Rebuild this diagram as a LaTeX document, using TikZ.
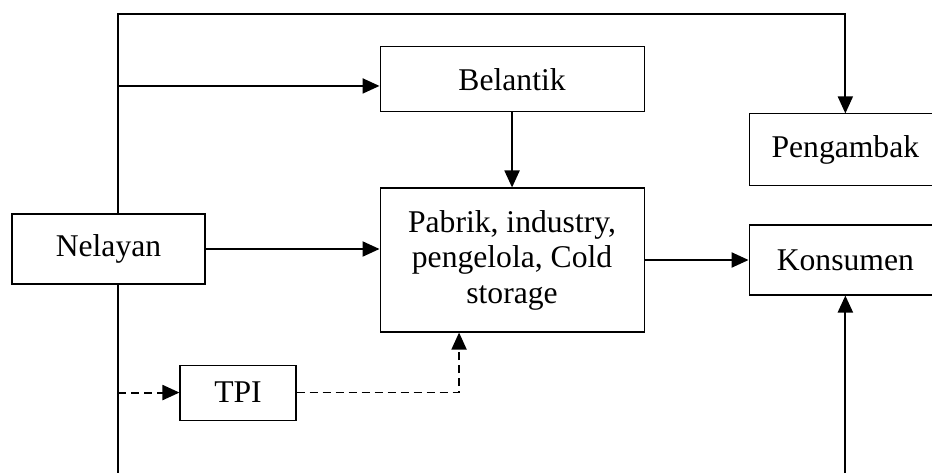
\documentclass[tikz,border=0pt]{standalone}
\usepackage{fontspec}
\setmainfont{Liberation Serif}
\usetikzlibrary{arrows.meta, positioning}
\tikzset{
    block/.style={rectangle, minimum width=5.28cm, minimum height=1.4cm, inner sep=0pt, align=center, draw=black, line width=0.6pt, font=\fontsize{18}{20.2}\selectfont},
    arrow/.style={line width=1.2pt, -{Triangle[length=0.34cm, width=0.3cm]}},
    dasharrow/.style={arrow, dash pattern=on 0.16cm off 0.1cm}
}

\begin{document}
\begin{tikzpicture}[node distance=1.5cm and 3.48cm]
    \clip (0,0) rectangle (18.64,-9.46);
    \fill[white] (0,0) rectangle (18.64,-9.46);

    \node (nelayan) [block, minimum width=3.86cm] at (2.17,-4.98) {Nelayan};
    \node (pabrik) [block, minimum height=2.88cm, right=of nelayan, yshift=-0.22cm] {Pabrik, industry,\\pengelola, Cold\\storage};
    \node (belantik) [block, minimum height=1.3cm, above=of pabrik] {Belantik};
    \node (konsumen) [block, minimum width=3.85cm, right=2.08cm of pabrik] {Konsumen};
    \node (pengambak) [block, minimum width=3.85cm, minimum height=1.44cm, above=0.76cm of konsumen] {Pengambak};
    \node (tpi) [block, minimum width=2.32cm, minimum height=1.1cm, below=1.6cm of nelayan, xshift=2.59cm] {TPI};

    \coordinate (trunktop) at (2.36,-0.28);
    \coordinate (trunkbottom) at (2.36,-9.46);
    \coordinate (tpicorner) at ([xshift=-1.06cm]pabrik.south);

    \draw [arrow, line width=1pt] (trunktop |- nelayan.north) -- (trunktop) -| (pengambak.north);
    \draw [arrow] (trunktop |- belantik.west) ++(0,-0.13) -- ([yshift=-0.13cm]belantik.west);
    \draw [line width=1pt] (trunktop |- nelayan.south) -- (trunkbottom);
    \draw [arrow] (nelayan.east) -- (nelayan.east -| pabrik.west);
    \draw [arrow] (belantik.south) -- (pabrik.north);
    \draw [arrow] (pabrik.east) -- (pabrik.east -| konsumen.west);
    \draw [arrow] (konsumen.south |- trunkbottom) -- (konsumen.south);
    \draw [dasharrow] (trunktop |- tpi.west) -- (tpi.west);
    \draw [dasharrow, line width=0.9pt] (tpi.east) -| (tpicorner);
\end{tikzpicture}
\end{document}
